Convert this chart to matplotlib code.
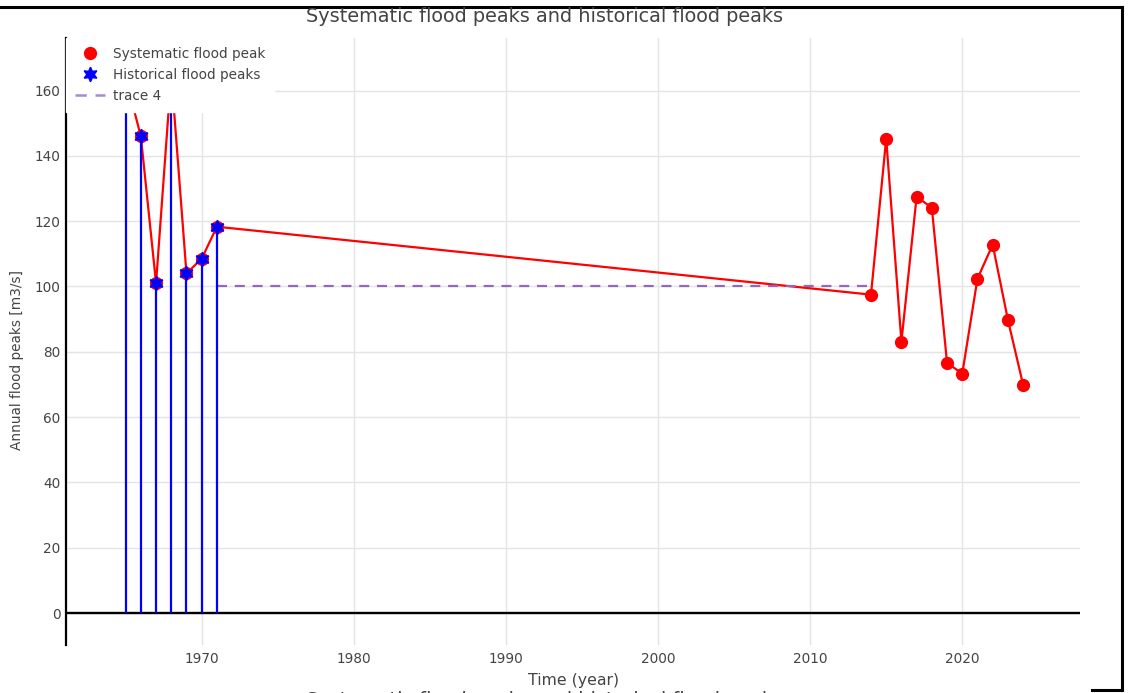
import matplotlib
matplotlib.use("Agg")
import matplotlib.pyplot as plt
from matplotlib.lines import Line2D

plt.rcParams['font.family'] = ['DejaVu Sans']

# ---- data ----
hist_years = [1965, 1966, 1967, 1968, 1969, 1970, 1971]
hist_peaks = [164, 146, 101, 165, 104, 108.5, 118.3]
sys_years = [2014, 2015, 2016, 2017, 2018, 2019, 2020, 2021, 2022, 2023, 2024]
sys_peaks = [97.5, 145.3, 83.1, 127.5, 124.1, 76.6, 73.3, 102.4, 112.8, 89.8, 69.9]
threshold_years = [1971, 2014]
threshold_values = [100, 100]
x_ticks = [1970, 1980, 1990, 2000, 2010, 2020]
y_ticks = [0, 20, 40, 60, 80, 100, 120, 140, 160]

title = "Systematic flood peaks and historical flood peaks"
xlabel = "Time (year)"
ylabel = "Annual flood peaks [m3/s]"

W, H = 1130, 693
fig = plt.figure(figsize=(W / 100, H / 100), dpi=100)
ax = fig.add_axes([66 / W, 1 - 645 / H, (1080 - 66) / W, (645 - 38) / H])

txt = '#444444'
grid_c = '#e4e4e4'

all_years = hist_years + sys_years
all_peaks = hist_peaks + sys_peaks

# systematic line + markers
ax.plot(all_years, all_peaks, color='red', lw=1.6, marker='o', ms=8.5,
        zorder=3)
# stems
ax.vlines(hist_years, 0, hist_peaks, color='blue', lw=1.6, zorder=4)
# historical stars
ax.plot(hist_years, hist_peaks, linestyle='none', marker=(6, 1, 0), ms=10.5,
        color='blue', markeredgecolor='blue', zorder=5)
# threshold
ax.plot(threshold_years, threshold_values, color='#9467bd', lw=1.6,
        dashes=[4.5, 3.5], zorder=3)

ax.set_xlim(1961.08, 2027.74)
ax.set_ylim(-9.8, 176.1)
ax.set_xticks(x_ticks)
ax.set_yticks(y_ticks)
ax.tick_params(length=0, labelsize=9.8, colors=txt, pad=4)
ax.tick_params(axis='x', pad=5)
for s in ['top', 'right', 'bottom']:
    ax.spines[s].set_visible(False)
ax.spines['left'].set_linewidth(1.6)
ax.spines['left'].set_color('black')
ax.grid(True, color=grid_c, lw=1)
ax.set_axisbelow(True)
ax.axhline(0, color='black', lw=1.7, zorder=2.5)

handles = [
    Line2D([], [], color='red', marker='o', linestyle='none', ms=8.5),
    Line2D([], [], color='blue', marker=(6, 1, 0), linestyle='none', ms=10.5),
    Line2D([], [], color='#a58bd0', lw=1.8, dashes=[4.5, 3.5]),
]
labels = ["Systematic flood peak", "Historical flood peaks", "trace 4"]
leg = ax.legend(handles, labels, loc='upper left', bbox_to_anchor=(0, 1),
                borderaxespad=0, frameon=True, fancybox=False, framealpha=1,
                facecolor='white', edgecolor='white', fontsize=9.8,
                handlelength=2.2, handletextpad=0.55, labelspacing=0.5,
                borderpad=0.68)
for t in leg.get_texts():
    t.set_color(txt)
leg.set_zorder(10)

fig.text(545 / W, 1 - 17 / H, title, ha='center', va='center', fontsize=13.9,
         color=txt)
fig.text(574 / W, 1 - 680 / H, xlabel, ha='center', va='center', fontsize=11.3,
         color=txt)
fig.text(17 / W, 1 - 360 / H, ylabel, ha='center', va='center', rotation=90,
         fontsize=9.8, color=txt)
# cut-off repeated title at bottom edge
fig.text(545 / W, 1 - 691 / H, title, ha='center', va='top', fontsize=13.9,
         color=txt)

# screenshot frame lines
def fline(x0, y0, x1, y1):
    fig.add_artist(Line2D([x0 / W, x1 / W], [1 - y0 / H, 1 - y1 / H],
                          color='black', lw=2.2, transform=fig.transFigure,
                          solid_capstyle='projecting'))

fline(0, 7, 1122, 7)
fline(1122, 7, 1122, 690)
fline(1092, 690, 1122, 690)

fig.savefig("out.png", dpi=100)
